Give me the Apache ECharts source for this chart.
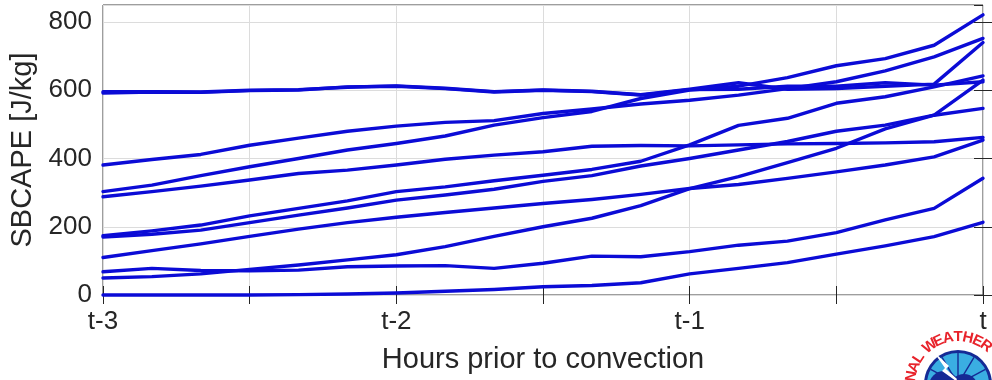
<!DOCTYPE html>
<html>
<head>
<meta charset="utf-8">
<script src="https://cdn.jsdelivr.net/npm/echarts@6/dist/echarts.min.js"></script>
<style>
  html, body { margin: 0; padding: 0; background: #ffffff; }
  #chart { width: 992px; height: 380px; }
</style>
</head>
<body>
<div id="chart"></div>
<script>
// Minutes before convection onset (10-minute steps)
const minutes = [-180, -170, -160, -150, -140, -130, -120, -110, -100, -90, -80, -70, -60, -50, -40, -30, -20, -10, 0];

// Surface-based CAPE [J/kg] for each event
const event1  = [592, 595, 594, 599, 601, 610, 612, 605, 595, 600, 596, 586, 602, 603, 612, 612, 622, 615, 625];
const event2  = [596, 596, 595, 600, 602, 609, 613, 606, 596, 601, 597, 587, 603, 622, 603, 605, 612, 618, 740];
const event3  = [381, 397, 412, 439, 460, 480, 495, 506, 511, 532, 545, 560, 571, 586, 605, 625, 657, 698, 752];
const event4  = [303, 322, 350, 376, 400, 425, 444, 466, 498, 520, 538, 576, 601, 612, 637, 672, 693, 732, 821];
const event5  = [288, 303, 319, 337, 356, 366, 381, 398, 410, 420, 436, 438, 437, 440, 443, 444, 446, 449, 462];
const event6  = [174, 188, 205, 232, 254, 276, 303, 317, 335, 351, 368, 392, 440, 497, 518, 562, 581, 610, 642];
const event7  = [170, 178, 190, 212, 234, 255, 278, 293, 310, 333, 350, 378, 400, 425, 450, 480, 498, 527, 547];
const event8  = [110, 130, 150, 172, 193, 212, 228, 242, 255, 268, 280, 295, 312, 324, 342, 361, 381, 405, 454];
const event9  = [68, 78, 72, 71, 73, 83, 85, 86, 78, 93, 114, 112, 127, 146, 158, 183, 220, 254, 342];
const event10 = [50, 54, 62, 75, 88, 103, 118, 142, 172, 200, 225, 262, 312, 347, 388, 430, 487, 527, 630];
const event11 = [0, 0, 0, 0, 1, 3, 6, 11, 16, 24, 28, 36, 62, 78, 95, 120, 144, 171, 213];

const events = [event1, event2, event3, event4, event5, event6, event7, event8, event9, event10, event11];

// Hour tick labels on the time axis
const hourTicks = { '-180': 't-3', '-120': 't-2', '-60': 't-1', '0': 't' };

const FONT = '"Liberation Sans", Arial, Helvetica, sans-serif';
const INK = '#262626';
const LINE_BLUE = '#0b0bd6';

const chart = echarts.init(document.getElementById('chart'), null, { renderer: 'canvas' });

const series = events.map((vals, i) => ({
  name: 'Event ' + (i + 1),
  type: 'line',
  data: minutes.map((m, j) => [m, vals[j]]),
  showSymbol: false,
  clip: false,
  lineStyle: { color: LINE_BLUE, width: 3.4, join: 'round', cap: 'round' },
  itemStyle: { color: LINE_BLUE },
  emphasis: { disabled: true },
  animation: false
}));

// Weather-service emblem peeking in at the lower right corner
const logoCx = 958, logoCy = 384, ringR = 47;
const ringText = 'NATIONAL WEATHER SERVICE';
const stepDeg = 12.2;
const ringLetters = [];
(function () {
  // angular position of every glyph, spaces take a shorter step
  const tIdx = ringText.indexOf('WEATHER') + 3;
  const pos = [];
  let a = 0;
  for (let i = 0; i < ringText.length; i++) {
    pos.push(a);
    const next = ringText[i + 1];
    a += (ringText[i] === ' ' || next === ' ') ? stepDeg * 0.8 : stepDeg;
  }
  const offset = pos[tIdx];
  for (let i = 0; i < ringText.length; i++) {
    const ch = ringText[i];
    if (ch === ' ') continue;
    const ang = (pos[i] - offset) * Math.PI / 180;
    ringLetters.push({
      type: 'text',
      x: logoCx + ringR * Math.sin(ang),
      y: logoCy - ringR * Math.cos(ang),
      rotation: -ang,
      style: {
        text: ch, fill: '#e8232b', font: 'bold 15px ' + FONT,
        textAlign: 'center', textVerticalAlign: 'middle'
      },
      z: 20
    });
  }
})();

const NAVY = '#152a95';
const spokes = [-62, -31, 0, 31, 62].map(d => {
  const r = d * Math.PI / 180;
  return {
    type: 'line',
    shape: { x1: logoCx, y1: logoCy, x2: logoCx + 31 * Math.sin(r), y2: logoCy - 31 * Math.cos(r) },
    style: { stroke: NAVY, lineWidth: 1.4 }, z: 18
  };
});

const logo = [
  { type: 'circle', shape: { cx: logoCx, cy: logoCy, r: 60 }, style: { fill: '#ffffff' }, z: 15 },
  { type: 'circle', shape: { cx: logoCx, cy: logoCy, r: 34 }, style: { fill: NAVY }, z: 16 },
  { type: 'circle', shape: { cx: logoCx, cy: logoCy, r: 31 }, style: { fill: '#3aaee2' }, z: 17 }
].concat(spokes).concat([
  { type: 'circle', shape: { cx: logoCx - 14, cy: logoCy + 2, r: 15 }, style: { fill: NAVY }, z: 19 },
  { type: 'circle', shape: { cx: logoCx + 6, cy: logoCy + 4, r: 14 }, style: { fill: NAVY }, z: 19 },
  { type: 'circle', shape: { cx: logoCx + 24, cy: logoCy + 8, r: 11 }, style: { fill: NAVY }, z: 19 },
  {
    type: 'polygon',
    shape: { points: [[logoCx - 25, logoCy - 33], [logoCx - 9, logoCy - 18], [logoCx - 12, logoCy - 15], [logoCx - 1, logoCy - 5], [logoCx - 2, logoCy - 3], [logoCx - 16, logoCy - 13], [logoCx - 13, logoCy - 16]] },
    style: { fill: '#ffffff' }, z: 21
  }
]).concat(ringLetters);

const commonTick = { show: true, inside: true, length: 9, lineStyle: { color: INK, width: 1 } };

chart.setOption({
  backgroundColor: '#ffffff',
  animation: false,
  textStyle: { fontFamily: FONT },
  grid: {
    left: 103, right: 9, top: 5, bottom: 85,
    show: true, borderColor: '#3c3c3c', borderWidth: 1, backgroundColor: 'transparent'
  },
  xAxis: [
    {
      type: 'value', min: -180, max: 0, interval: 30, position: 'bottom',
      axisLine: { show: false },
      axisTick: commonTick,
      splitLine: { show: true, lineStyle: { color: '#dcdcdc', width: 1 } },
      axisLabel: {
        show: true, margin: 14, color: INK, fontSize: 26, fontFamily: FONT,
        formatter: v => hourTicks[String(v)] || '',
        showMinLabel: true, showMaxLabel: true
      },
      name: 'Hours prior to convection', nameLocation: 'middle', nameGap: 50,
      nameTextStyle: { color: INK, fontSize: 29, fontFamily: FONT }
    },
    {
      type: 'value', min: -180, max: 0, interval: 30, position: 'top',
      axisLine: { show: false }, axisTick: commonTick,
      splitLine: { show: false }, axisLabel: { show: false }
    }
  ],
  yAxis: [
    {
      type: 'value', min: 0, max: 850, interval: 200, position: 'left',
      axisLine: { show: false },
      axisTick: commonTick,
      splitLine: { show: true, lineStyle: { color: '#dcdcdc', width: 1 } },
      axisLabel: {
        show: true, margin: 11, color: INK, fontSize: 26, fontFamily: FONT,
        formatter: v => (v % 200 === 0 ? String(v) : ''), showMaxLabel: false
      },
      name: 'SBCAPE [J/kg]', nameLocation: 'middle', nameGap: 55, nameRotate: 90,
      nameTextStyle: { color: INK, fontSize: 29, fontFamily: FONT }
    },
    {
      type: 'value', min: 0, max: 850, interval: 200, position: 'right',
      axisLine: { show: false }, axisTick: commonTick,
      splitLine: { show: false }, axisLabel: { show: false }
    }
  ],
  series: series,
  graphic: logo
});
</script>
</body>
</html>
